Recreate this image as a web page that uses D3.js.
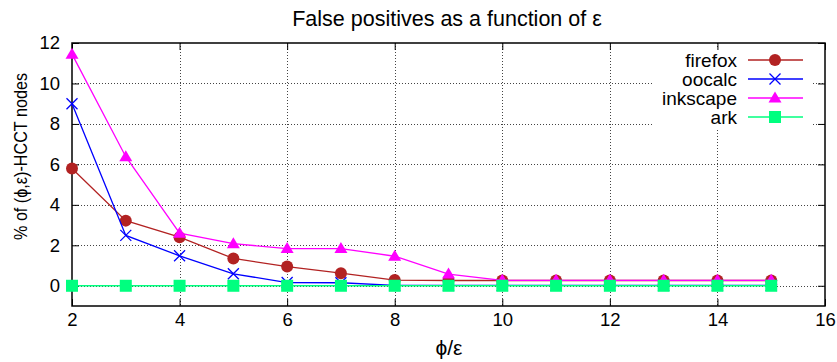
<!DOCTYPE html>
<html>
<head>
<meta charset="utf-8">
<script src="https://cdn.jsdelivr.net/npm/d3@7"></script>
<style>
  body { margin: 0; background: #fff; }
  text { font-family: "Liberation Sans", Arial, Helvetica, sans-serif; fill: #000; }
</style>
</head>
<body>
<div id="chart"></div>
<script>
// values
var xs = [2, 3, 4, 5, 6, 7, 8, 9, 10, 11, 12, 13, 14, 15];
var firefox  = [5.8, 3.22, 2.4, 1.35, 0.95, 0.62, 0.28, 0.26, 0.26, 0.26, 0.26, 0.26, 0.26, 0.26];
var oocalc   = [9.0, 2.49, 1.48, 0.59, 0.16, 0.15, 0.02, 0.02, 0.02, 0.02, 0.02, 0.02, 0.02, 0.02];
var inkscape = [11.45, 6.38, 2.6, 2.08, 1.84, 1.84, 1.46, 0.58, 0.27, 0.27, 0.27, 0.27, 0.27, 0.27];
var ark      = [0, 0, 0, 0, 0, 0, 0, 0, 0, 0, 0, 0, 0, 0];
var xTicks = [2, 4, 6, 8, 10, 12, 14, 16];
var yTicks = [0, 2, 4, 6, 8, 10, 12];

var series = [
  {name: "firefox",  vals: firefox,  color: "#b22222", sym: "circle"},
  {name: "oocalc",   vals: oocalc,   color: "#0000ff", sym: "cross"},
  {name: "inkscape", vals: inkscape, color: "#ff00ff", sym: "triangle"},
  {name: "ark",      vals: ark,      color: "#00ff7f", sym: "square"}
];

var width = 837, height = 362;
var pLeft = 72, pRight = 825, pTop = 43, pBottom = 306;

var svg = d3.select("#chart").append("svg").attr("width", width).attr("height", height);

var xScale = d3.scaleLinear().domain([2, 16]).range([pLeft, pRight]);
var yScale = d3.scaleLinear().domain([-1, 12]).range([pBottom, pTop]);

// grid
var grid = svg.append("g").attr("class", "grid")
  .attr("stroke", "#444").attr("stroke-width", 1).attr("stroke-dasharray", "1,2");
grid.selectAll("line.gx").data(xTicks.filter(d => d > 2 && d < 16)).enter().append("line")
  .attr("x1", d => Math.round(xScale(d)) + 0.5).attr("x2", d => Math.round(xScale(d)) + 0.5)
  .attr("y1", pTop).attr("y2", pBottom);
grid.selectAll("line.gy").data(yTicks.filter(d => d < 12)).enter().append("line")
  .attr("y1", d => Math.round(yScale(d)) + 0.5).attr("y2", d => Math.round(yScale(d)) + 0.5)
  .attr("x1", pLeft).attr("x2", pRight);

// legend background hides the grid
svg.append("rect").attr("x", 653).attr("y", 48).attr("width", 160).attr("height", 80).attr("fill", "#fff");

// axes, ticks inward on all sides
var xAxis = d3.axisBottom(xScale).tickValues(xTicks).tickSize(-7).tickPadding(7).tickFormat(d3.format("d"));
var yAxis = d3.axisLeft(yScale).tickValues(yTicks).tickSize(-7).tickPadding(12).tickFormat(d3.format("d"));
var gx = svg.append("g").attr("transform", "translate(0," + pBottom + ")").call(xAxis);
var gy = svg.append("g").attr("transform", "translate(" + pLeft + ",0)").call(yAxis);
var gx2 = svg.append("g").attr("transform", "translate(0," + pTop + ")")
  .call(d3.axisTop(xScale).tickValues(xTicks).tickSize(-7).tickFormat(""));
var gy2 = svg.append("g").attr("transform", "translate(" + pRight + ",0)")
  .call(d3.axisRight(yScale).tickValues(yTicks).tickSize(-7).tickFormat(""));
[gx, gy, gx2, gy2].forEach(function(g) {
  g.select(".domain").remove();
  g.selectAll(".tick line").attr("stroke", "#000");
  g.selectAll("text").style("font-size", "18.5px").attr("fill", "#000");
});

svg.append("rect").attr("x", pLeft).attr("y", pTop).attr("width", pRight - pLeft).attr("height", pBottom - pTop)
  .attr("fill", "none").attr("stroke", "#000").attr("stroke-width", 1.5);

function drawSymbol(g, sym, color, cx, cy) {
  if (sym === "circle") {
    g.append("circle").attr("cx", cx).attr("cy", cy).attr("r", 6).attr("fill", color);
  } else if (sym === "cross") {
    var s = 5.5;
    g.append("path").attr("d", "M" + (cx - s) + "," + (cy - s) + "L" + (cx + s) + "," + (cy + s) +
      "M" + (cx - s) + "," + (cy + s) + "L" + (cx + s) + "," + (cy - s))
      .attr("stroke", color).attr("stroke-width", 1.3).attr("fill", "none");
  } else if (sym === "triangle") {
    var t = 6.5;
    g.append("path").attr("d", "M" + cx + "," + (cy - t) + "L" + (cx + t) + "," + (cy + t * 0.7) +
      "L" + (cx - t) + "," + (cy + t * 0.7) + "Z").attr("fill", color);
  } else {
    g.append("rect").attr("x", cx - 6).attr("y", cy - 6).attr("width", 12).attr("height", 12).attr("fill", color);
  }
}

var line = d3.line().x((d, i) => xScale(xs[i])).y(d => yScale(d));

series.forEach(function(s) {
  var g = svg.append("g");
  g.append("path").datum(s.vals).attr("d", line)
    .attr("fill", "none").attr("stroke", s.color).attr("stroke-width", 1.3);
  s.vals.forEach(function(v, i) { drawSymbol(g, s.sym, s.color, xScale(xs[i]), yScale(v)); });
});

// legend
var leg = svg.append("g");
series.forEach(function(s, i) {
  var ly = 60 + i * 19;
  leg.append("text").attr("x", 737).attr("y", ly + 6.5).attr("text-anchor", "end")
    .style("font-size", "19px").text(s.name);
  leg.append("line").attr("x1", 748).attr("x2", 803).attr("y1", ly).attr("y2", ly)
    .attr("stroke", s.color).attr("stroke-width", 1.5);
  drawSymbol(leg, s.sym, s.color, 775, ly);
});

// title and labels
svg.append("text").attr("x", 447).attr("y", 26).attr("text-anchor", "middle")
  .style("font-size", "21.5px").text("False positives as a function of ε");
svg.append("text").attr("x", 449).attr("y", 355).attr("text-anchor", "middle")
  .style("font-size", "21px").text("ϕ/ε");
svg.append("text").attr("transform", "translate(26.5,156.5) rotate(-90)").attr("text-anchor", "middle")
  .attr("textLength", 167).attr("lengthAdjust", "spacingAndGlyphs")
  .style("font-size", "18px").text("% of (ϕ,ε)-HCCT nodes");
</script>
</body>
</html>
